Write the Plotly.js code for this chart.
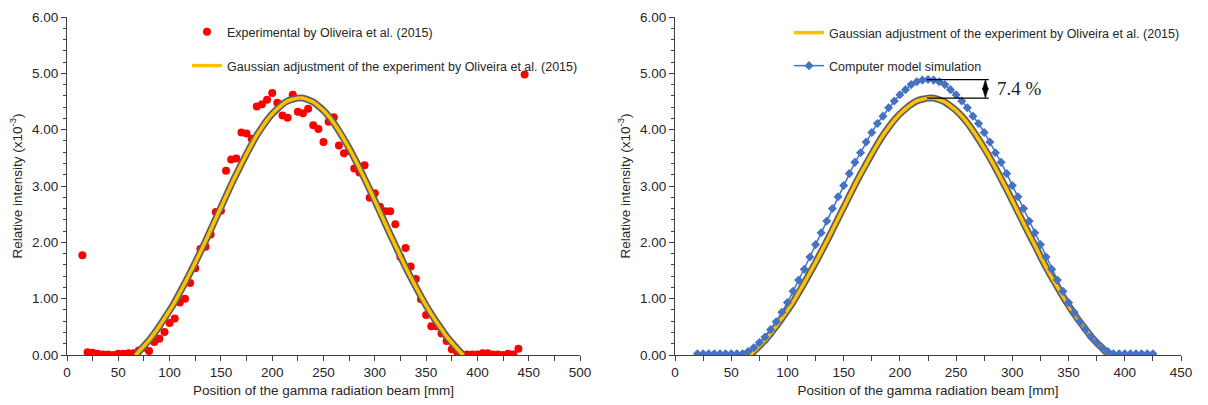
<!DOCTYPE html>
<html>
<head>
<meta charset="utf-8">
<script src="https://cdn.plot.ly/plotly-3.0.1.min.js"></script>
<style>html,body{margin:0;padding:0;background:#fff;}#chart{width:1208px;height:405px;}</style>
</head>
<body>
<div id="chart"></div>
<script>
// Experimental points (Oliveira et al. 2015), position [mm]
var expX = [15,20,25,30,35,40,45,50,55,60,65,70,75,80,85,90,95,100,105,110,115,120,125,130,135,140,145,150,155,160,165,170,175,180,185,190,195,200,205,210,215,220,225,230,235,240,245,250,255,260,265,270,275,280,285,290,295,300,305,310,315,320,325,330,335,340,345,350,355,360,365,370,375,380,385,390,395,400,405,410,415,420,425,430,435,440,446];
var expY = [1.77,0.05,0.04,0.02,0.01,0.01,0.00,0.02,0.02,0.03,0.03,0.08,0.13,0.07,0.23,0.29,0.41,0.57,0.65,0.93,1.00,1.28,1.54,1.88,1.92,2.14,2.54,2.56,3.27,3.47,3.49,3.95,3.93,3.84,4.41,4.45,4.53,4.65,4.48,4.25,4.21,4.62,4.32,4.29,4.37,4.08,4.01,3.78,4.14,4.22,3.72,3.58,3.62,3.31,3.24,3.37,2.79,2.87,2.63,2.55,2.55,2.32,1.74,1.90,1.57,1.35,0.99,0.71,0.51,0.51,0.38,0.25,0.10,0.06,0.01,0.01,0.01,0.01,0.03,0.03,0.01,0.01,0.00,0.02,0.01,0.11,4.98];

// Gaussian adjustment of the experiment
var gaussX = [67,70,75,80,85,90,95,100,105,110,115,120,125,130,135,140,145,150,155,160,165,170,175,180,185,190,195,200,205,210,215,220,225,230,235,240,245,250,255,260,265,270,275,280,285,290,295,300,305,310,315,320,325,330,335,340,345,350,355,360,365,370,375,380,385,386];
var gaussY = [0.00,0.06,0.16,0.26,0.38,0.51,0.65,0.79,0.94,1.11,1.28,1.46,1.64,1.83,2.02,2.22,2.42,2.62,2.82,3.02,3.21,3.39,3.57,3.74,3.90,4.04,4.17,4.28,4.37,4.45,4.51,4.54,4.56,4.56,4.53,4.49,4.42,4.34,4.24,4.12,3.98,3.83,3.67,3.50,3.32,3.13,2.94,2.74,2.54,2.34,2.14,1.95,1.75,1.56,1.38,1.21,1.04,0.88,0.73,0.59,0.46,0.33,0.22,0.12,0.02,0.00];

// Computer model simulation
var simX = [20,25,30,35,40,45,50,55,60,65,70,75,80,85,90,95,100,105,110,115,120,125,130,135,140,145,150,155,160,165,170,175,180,185,190,195,200,205,210,215,220,225,230,235,240,245,250,255,260,265,270,275,280,285,290,295,300,305,310,315,320,325,330,335,340,345,350,355,360,365,370,375,380,385,390,395,400,405,410,415,420,425];
var simY = [0.02,0.02,0.02,0.02,0.02,0.02,0.02,0.02,0.02,0.06,0.13,0.22,0.32,0.45,0.59,0.76,0.93,1.13,1.33,1.52,1.74,1.96,2.17,2.38,2.60,2.81,3.01,3.22,3.42,3.59,3.78,3.95,4.11,4.24,4.39,4.51,4.62,4.71,4.80,4.85,4.88,4.89,4.88,4.85,4.80,4.71,4.62,4.51,4.39,4.24,4.11,3.95,3.78,3.59,3.42,3.22,3.01,2.81,2.60,2.38,2.17,1.96,1.74,1.52,1.33,1.13,0.93,0.76,0.59,0.45,0.32,0.22,0.13,0.06,0.02,0.02,0.02,0.02,0.02,0.02,0.02,0.02];

var yTicks = [0,1,2,3,4,5,6];
var leftXTicks = [0,50,100,150,200,250,300,350,400,450,500];
var rightXTicks = [0,50,100,150,200,250,300,350,400,450];
var diffLabel = '7.4 %';
var diffX0 = 224, diffX1 = 279, arrowX = 276;

var FONT = 'Liberation Sans, Arial, sans-serif';
var TXT = '#262626';
var GOLD = '#FFC000';
var GRAY = '#5f5f5f';
var BLUE = '#4472C4';

var traces = [
  {x: expX, y: expY, type: 'scatter', mode: 'markers', name: 'Experimental by Oliveira et al. (2015)',
   marker: {color: '#FF0000', size: 8}, xaxis: 'x', yaxis: 'y', legend: 'legend'},
  {x: gaussX, y: gaussY, type: 'scatter', mode: 'lines', showlegend: false, hoverinfo: 'skip',
   line: {color: GRAY, width: 7, shape: 'spline', smoothing: 0.6}, xaxis: 'x', yaxis: 'y'},
  {x: gaussX, y: gaussY, type: 'scatter', mode: 'lines+markers', name: 'Gaussian adjustment of the experiment by Oliveira et al. (2015)',
   line: {color: GOLD, width: 3.5, shape: 'spline', smoothing: 0.6}, marker: {color: GOLD, size: 3}, xaxis: 'x', yaxis: 'y', legend: 'legend2'},

  {x: gaussX, y: gaussY, type: 'scatter', mode: 'lines', showlegend: false, hoverinfo: 'skip',
   line: {color: GRAY, width: 7, shape: 'spline', smoothing: 0.6}, xaxis: 'x2', yaxis: 'y2'},
  {x: gaussX, y: gaussY, type: 'scatter', mode: 'lines+markers', name: 'Gaussian adjustment of the experiment by Oliveira et al. (2015)',
   line: {color: GOLD, width: 3.5, shape: 'spline', smoothing: 0.6}, marker: {color: GOLD, size: 3}, xaxis: 'x2', yaxis: 'y2', legend: 'legend3'},
  {x: simX, y: simY, type: 'scatter', mode: 'lines+markers', name: 'Computer model simulation',
   line: {color: BLUE, width: 1.5}, marker: {color: BLUE, size: 7, symbol: 'diamond'}, xaxis: 'x2', yaxis: 'y2', legend: 'legend4'}
];

function xAxis(domain, range, ticks) {
  return {domain: domain, range: range, tickvals: ticks, ticktext: ticks.map(String),
    showgrid: false, zeroline: false, showline: true, linecolor: '#404040', linewidth: 1,
    ticks: 'outside', ticklen: 5, tickcolor: '#404040',
    minor: {dtick: 25, ticks: 'outside', ticklen: 5, tickcolor: '#404040'},
    tickfont: {family: FONT, size: 13.5, color: TXT},
    title: {text: 'Position of the gamma radiation beam [mm]', font: {family: FONT, size: 13.5, color: TXT}, standoff: 6},
    fixedrange: true};
}
function yAxis(anchor) {
  return {domain: [0, 1], range: [0, 6], tickvals: yTicks, ticktext: yTicks.map(function(v){return v.toFixed(2);}),
    anchor: anchor, showgrid: false, zeroline: false, showline: true, linecolor: '#404040', linewidth: 1,
    ticks: 'outside', ticklen: 5, tickcolor: '#404040',
    minor: {dtick: 0.2, ticks: 'outside', ticklen: 3, tickcolor: '#404040'},
    tickfont: {family: FONT, size: 13.5, color: TXT},
    title: {text: 'Relative intensity (x10<sup>-3</sup>)', font: {family: FONT, size: 13.5, color: TXT}, standoff: 6},
    fixedrange: true};
}
// plot area spans y = 17 .. 355 px
function leg(xpx, ypx) {
  return {x: xpx / 1208, y: (355 - ypx) / 338, xref: 'paper', yref: 'paper', xanchor: 'left', yanchor: 'middle',
    bgcolor: 'rgba(0,0,0,0)', borderwidth: 0, font: {family: FONT, size: 12.5, color: TXT}};
}

var simPeak = Math.max.apply(null, simY);
var gaussPeak = Math.max.apply(null, gaussY);
var headW = 2.6, headH = 0.09;

var layout = {
  width: 1208, height: 405,
  margin: {l: 0, r: 0, t: 17, b: 50},
  paper_bgcolor: '#ffffff', plot_bgcolor: '#ffffff',
  showlegend: true,
  xaxis: xAxis([67/1208, 580/1208], [0, 500], leftXTicks),
  yaxis: yAxis('x'),
  xaxis2: xAxis([675/1208, 1181/1208], [0, 450], rightXTicks),
  yaxis2: yAxis('x2'),
  legend: leg(187, 32),
  legend2: leg(187, 66),
  legend3: leg(789, 33),
  legend4: leg(789, 66),
  shapes: [
    {type: 'line', xref: 'x2', yref: 'y2', x0: diffX0, x1: diffX1, y0: simPeak, y1: simPeak, line: {color: '#000', width: 1.2}},
    {type: 'line', xref: 'x2', yref: 'y2', x0: diffX0, x1: diffX1, y0: gaussPeak, y1: gaussPeak, line: {color: '#000', width: 1.2}},
    {type: 'line', xref: 'x2', yref: 'y2', x0: arrowX, x1: arrowX, y0: gaussPeak + headH, y1: simPeak - headH, line: {color: '#000', width: 1.3}},
    {type: 'path', xref: 'x2', yref: 'y2', fillcolor: '#000', line: {color: '#000', width: 0.5},
     path: 'M ' + (arrowX - headW) + ' ' + (simPeak - 2 * headH) + ' L ' + (arrowX + headW) + ' ' + (simPeak - 2 * headH) + ' L ' + arrowX + ' ' + simPeak + ' Z'},
    {type: 'path', xref: 'x2', yref: 'y2', fillcolor: '#000', line: {color: '#000', width: 0.5},
     path: 'M ' + (arrowX - headW) + ' ' + (gaussPeak + 2 * headH) + ' L ' + (arrowX + headW) + ' ' + (gaussPeak + 2 * headH) + ' L ' + arrowX + ' ' + gaussPeak + ' Z'}
  ],
  annotations: [
    {xref: 'x2', yref: 'y2', x: diffX1 + 6, y: (simPeak + gaussPeak) / 2, xanchor: 'left', yanchor: 'middle',
     text: diffLabel, showarrow: false, font: {family: 'Liberation Serif, Times New Roman, serif', size: 19, color: '#222'}}
  ]
};

Plotly.newPlot('chart', traces, layout, {staticPlot: true, displayModeBar: false});
</script>
</body>
</html>
